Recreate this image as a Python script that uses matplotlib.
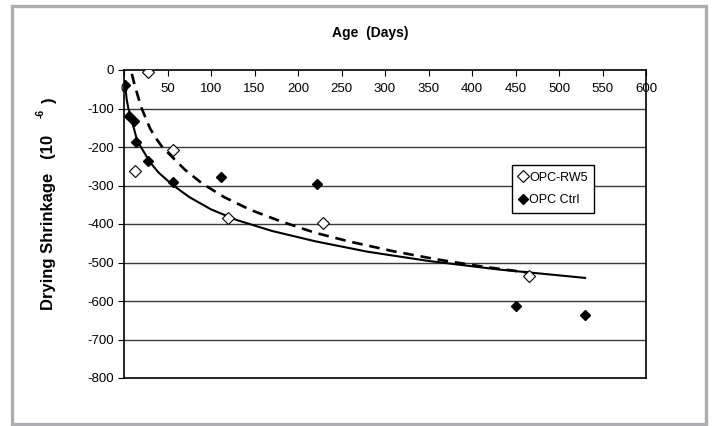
import matplotlib
matplotlib.use('Agg')
import matplotlib.pyplot as plt
from matplotlib.patches import Rectangle

plt.rcParams['font.family'] = ['Liberation Sans', 'DejaVu Sans']
plt.rcParams['axes.unicode_minus'] = False

# measured points (age in days, shrinkage in 1e-6)
rw5_age = [13, 28, 56, 120, 229, 465]
rw5_shr = [-263, -6, -208, -384, -397, -535]

ctrl_age = [1, 6, 12, 14, 28, 56, 112, 222, 450, 530]
ctrl_shr = [-38, -119, -132, -188, -237, -292, -278, -297, -614, -636]

# trendlines
ctrl_trend_x = [1.5, 3, 5, 7.5, 10, 15, 20, 30, 40, 55, 75, 100, 130, 170,
                220, 280, 350, 430, 530]
ctrl_trend_y = [-42, -75, -100, -118, -140, -182, -202, -240, -267, -297,
                -330, -362, -390, -418, -445, -472, -496, -518, -540]

rw5_trend_x = [9, 12, 16, 20, 25, 30, 36, 44, 55, 70, 90, 115, 145, 180,
               220, 260, 310, 360, 410, 467]
rw5_trend_y = [-10, -37, -68, -98, -125, -152, -175, -200, -225, -259, -295,
               -330, -363, -393, -423, -446, -471, -492, -510, -527]

x_ticks = list(range(0, 601, 50))
y_ticks = list(range(-800, 1, 100))

fig = plt.figure(figsize=(7.13, 4.26), dpi=100)
ax = fig.add_axes([124 / 713, 1 - 378 / 426, 522 / 713, 308 / 426])

for y in y_ticks[1:-1]:
    ax.axhline(y, color='#3a3a3a', lw=1.0, zorder=1)

ax.plot(ctrl_trend_x, ctrl_trend_y, color='black', lw=1.5, zorder=2)
ax.plot(rw5_trend_x, rw5_trend_y, color='black', lw=1.9,
        linestyle=(0, (4, 2.6)), zorder=2)

ax.plot(rw5_age, rw5_shr, 'D', ms=5.8, mfc='white', mec='black', mew=0.8,
        ls='none', label='OPC-RW5', zorder=3)
ax.plot(ctrl_age, ctrl_shr, 'D', ms=5.2, mfc='black', mec='black',
        ls='none', label='OPC Ctrl', zorder=3)

ax.set_xlim(0, 600)
ax.set_ylim(-800, 0)
ax.set_xticks(x_ticks)
ax.set_yticks(y_ticks)
ax.tick_params(axis='x', top=True, bottom=False, labeltop=True,
               labelbottom=False, direction='in', length=4, pad=-18,
               labelsize=9.5)
ax.tick_params(axis='y', direction='out', length=4, pad=3, labelsize=9.5)
for s in ax.spines.values():
    s.set_linewidth(1.2)

fig.text(370 / 713, 1 - 33 / 426, 'Age  (Days)', ha='center', va='center',
         fontsize=10, fontweight='bold')
fig.text(49 / 713, 1 - 222 / 426, 'Drying Shrinkage   (10', rotation=90,
         ha='center', va='center', fontsize=12, fontweight='bold')
fig.text(41 / 713, 1 - 113 / 426, '-6', rotation=90, ha='center',
         va='center', fontsize=7.5, fontweight='bold')
fig.text(49 / 713, 1 - 100 / 426, ')', rotation=90, ha='center',
         va='center', fontsize=12, fontweight='bold')

leg = ax.legend(loc='upper left', bbox_to_anchor=(512 / 713, 1 - 165 / 426),
                bbox_transform=fig.transFigure, fancybox=False,
                edgecolor='black', framealpha=1, fontsize=9,
                handlelength=0.6, handletextpad=0.2, borderpad=0.55,
                labelspacing=0.85, borderaxespad=0)
leg.get_frame().set_linewidth(1.0)

fig.patches.append(Rectangle((11.5 / 713, 1 - 423.5 / 426),
                             694.5 / 713, 418 / 426,
                             transform=fig.transFigure, fill=False,
                             edgecolor='#aeaeb0', lw=2.4))

fig.savefig('out.png', dpi=100)
